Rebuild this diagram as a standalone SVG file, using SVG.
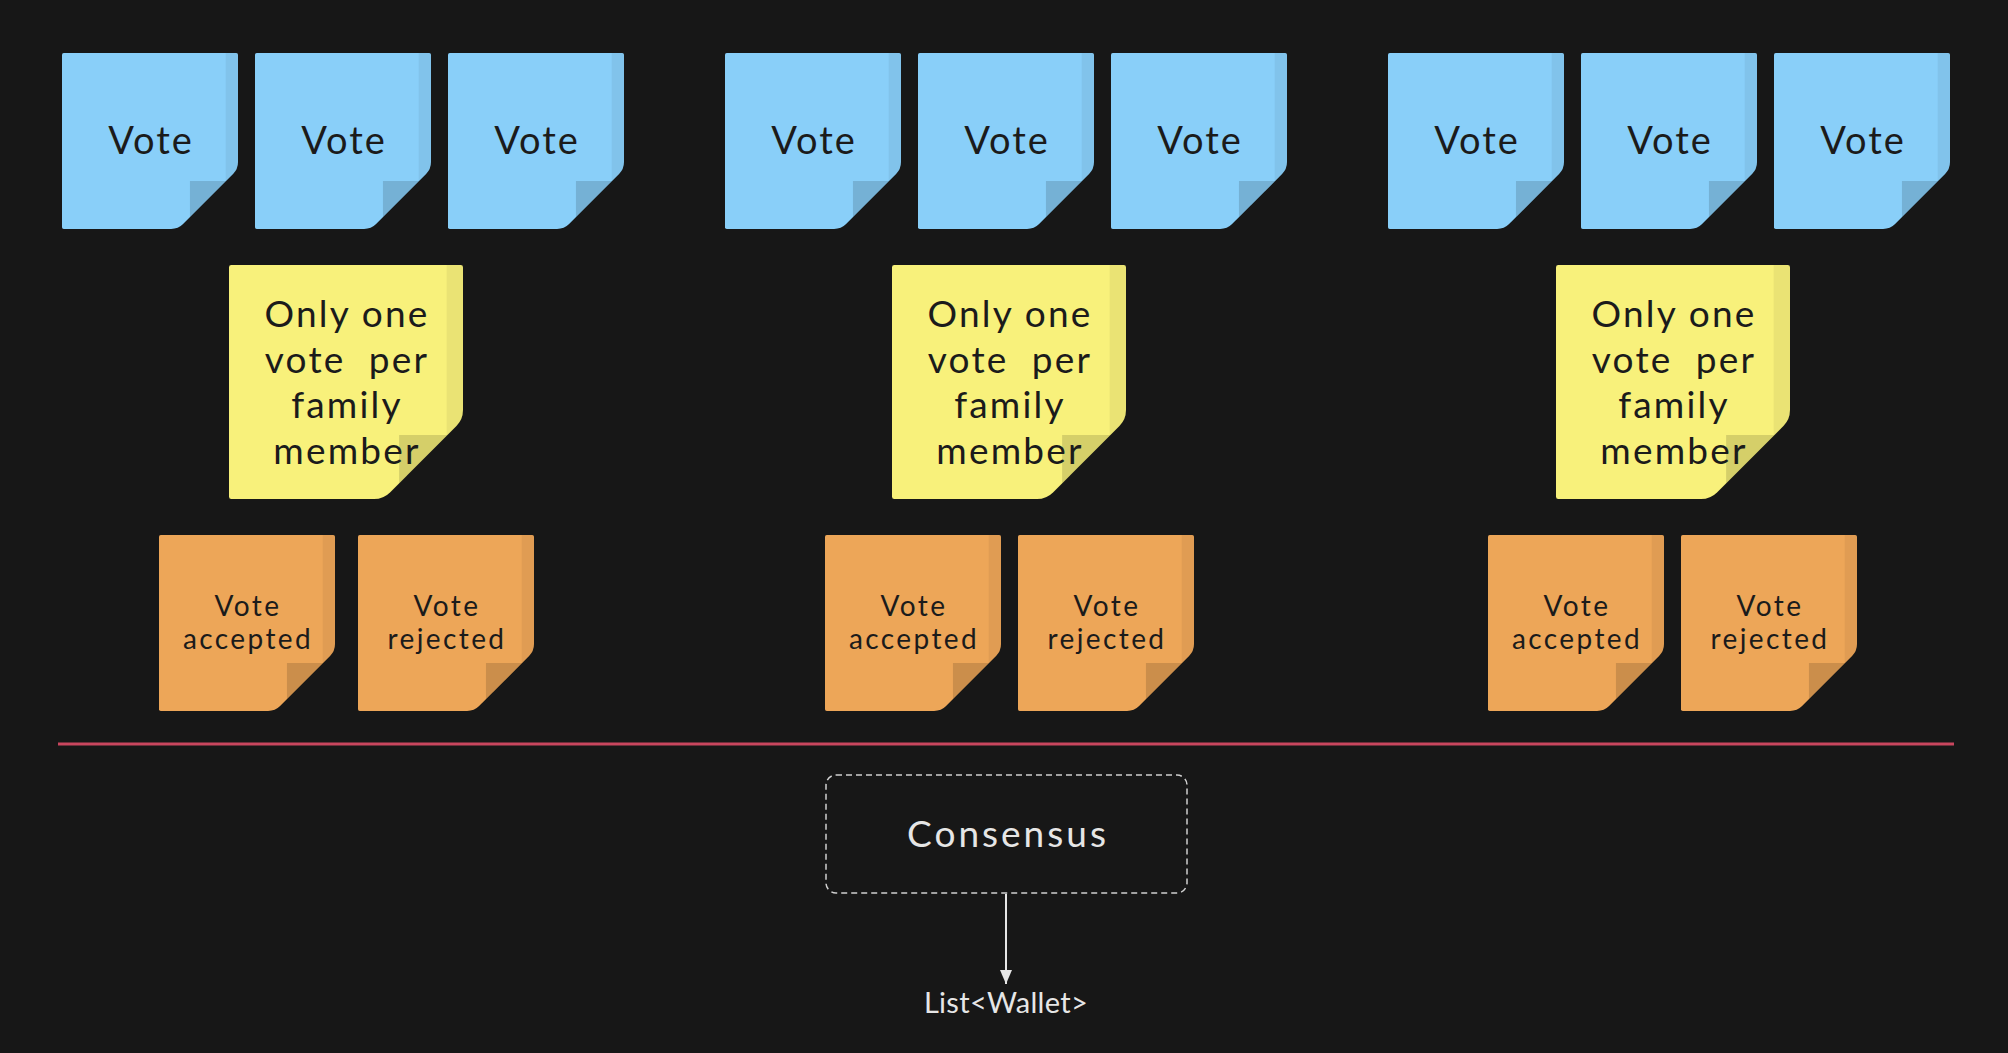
<svg xmlns="http://www.w3.org/2000/svg" width="2008" height="1053" viewBox="0 0 2008 1053">
<style>
.blue{fill:#89CFF9}
.yellow{fill:#F8F17B}
.orange{fill:#EDA658}
.t{font-family:Lato,"Liberation Sans",sans-serif;fill:#1B1B1B;text-anchor:middle}
.tb{font-size:38px;letter-spacing:2px}
.ty{font-size:37px;white-space:pre;letter-spacing:2.2px}
.to{font-size:28px;letter-spacing:2.4px}
.w{font-family:Lato,"Liberation Sans",sans-serif;fill:#E6E6E6;text-anchor:middle}
</style>
<defs>
<symbol id="note" viewBox="0 0 100 100">
<path d="M0,1 Q0,0 1,0 H99 Q100,0 100,1 V62 Q100,66 97.2,68.8 L68.8,97.2 Q66,100 62,100 H1 Q0,100 0,99 Z"/>
<path d="M93,0 H99 Q100,0 100,1 V62 Q100,66 97.2,68.8 L93,73 Z" fill="#000" fill-opacity="0.055"/>
<path d="M72.7,72.7 H93.3 L72.7,93.3 Z" fill="#000" fill-opacity="0.14"/>
</symbol>
<marker id="arr" viewBox="0 0 14 12" markerWidth="14" markerHeight="12" refX="14" refY="6" orient="auto" markerUnits="userSpaceOnUse">
<path d="M0,0 L14,6 L0,12 Z" fill="#E6E6E6"/>
</marker>
</defs>
<rect width="2008" height="1053" fill="#171717"/>

<g id="vote1"><use href="#note" x="62" y="53" width="176" height="176" class="blue"/><text class="t tb" x="151" y="154">Vote</text></g>
<g id="vote2"><use href="#note" x="255" y="53" width="176" height="176" class="blue"/><text class="t tb" x="344" y="154">Vote</text></g>
<g id="vote3"><use href="#note" x="448" y="53" width="176" height="176" class="blue"/><text class="t tb" x="537" y="154">Vote</text></g>
<g id="vote4"><use href="#note" x="725" y="53" width="176" height="176" class="blue"/><text class="t tb" x="814" y="154">Vote</text></g>
<g id="vote5"><use href="#note" x="918" y="53" width="176" height="176" class="blue"/><text class="t tb" x="1007" y="154">Vote</text></g>
<g id="vote6"><use href="#note" x="1111" y="53" width="176" height="176" class="blue"/><text class="t tb" x="1200" y="154">Vote</text></g>
<g id="vote7"><use href="#note" x="1388" y="53" width="176" height="176" class="blue"/><text class="t tb" x="1477" y="154">Vote</text></g>
<g id="vote8"><use href="#note" x="1581" y="53" width="176" height="176" class="blue"/><text class="t tb" x="1670" y="154">Vote</text></g>
<g id="vote9"><use href="#note" x="1774" y="53" width="176" height="176" class="blue"/><text class="t tb" x="1863" y="154">Vote</text></g>

<g id="rule1"><use href="#note" x="229" y="265" width="234" height="234" class="yellow"/>
<text class="t ty" x="347" y="327">Only one</text><text class="t ty" x="347" y="372.5">vote  per</text><text class="t ty" x="347" y="418">family</text><text class="t ty" x="347" y="463.5">member</text></g>
<g id="rule2"><use href="#note" x="892" y="265" width="234" height="234" class="yellow"/>
<text class="t ty" x="1010" y="327">Only one</text><text class="t ty" x="1010" y="372.5">vote  per</text><text class="t ty" x="1010" y="418">family</text><text class="t ty" x="1010" y="463.5">member</text></g>
<g id="rule3"><use href="#note" x="1556" y="265" width="234" height="234" class="yellow"/>
<text class="t ty" x="1674" y="327">Only one</text><text class="t ty" x="1674" y="372.5">vote  per</text><text class="t ty" x="1674" y="418">family</text><text class="t ty" x="1674" y="463.5">member</text></g>

<g id="acc1"><use href="#note" x="159" y="535" width="176" height="176" class="orange"/><text class="t to" x="248" y="616">Vote</text><text class="t to" x="248" y="649">accepted</text></g>
<g id="rej1"><use href="#note" x="358" y="535" width="176" height="176" class="orange"/><text class="t to" x="447" y="616">Vote</text><text class="t to" x="447" y="649">rejected</text></g>
<g id="acc2"><use href="#note" x="825" y="535" width="176" height="176" class="orange"/><text class="t to" x="914" y="616">Vote</text><text class="t to" x="914" y="649">accepted</text></g>
<g id="rej2"><use href="#note" x="1018" y="535" width="176" height="176" class="orange"/><text class="t to" x="1107" y="616">Vote</text><text class="t to" x="1107" y="649">rejected</text></g>
<g id="acc3"><use href="#note" x="1488" y="535" width="176" height="176" class="orange"/><text class="t to" x="1577" y="616">Vote</text><text class="t to" x="1577" y="649">accepted</text></g>
<g id="rej3"><use href="#note" x="1681" y="535" width="176" height="176" class="orange"/><text class="t to" x="1770" y="616">Vote</text><text class="t to" x="1770" y="649">rejected</text></g>

<line id="divider" x1="58" y1="744" x2="1954" y2="744" stroke="#C9465E" stroke-width="3"/>

<g id="consensus"><rect x="826" y="775" width="361" height="118" rx="10" fill="none" stroke="#CFCFCF" stroke-width="1.5" stroke-dasharray="6 4"/>
<text class="w" x="1008" y="847" font-size="37" letter-spacing="3">Consensus</text></g>

<g id="connectors"><line x1="1006" y1="894" x2="1006" y2="984" stroke="#E6E6E6" stroke-width="2" marker-end="url(#arr)"/></g>

<g id="result"><text class="w" x="1006" y="1013" font-size="29" letter-spacing="0.3">List&lt;Wallet&gt;</text></g>
</svg>
